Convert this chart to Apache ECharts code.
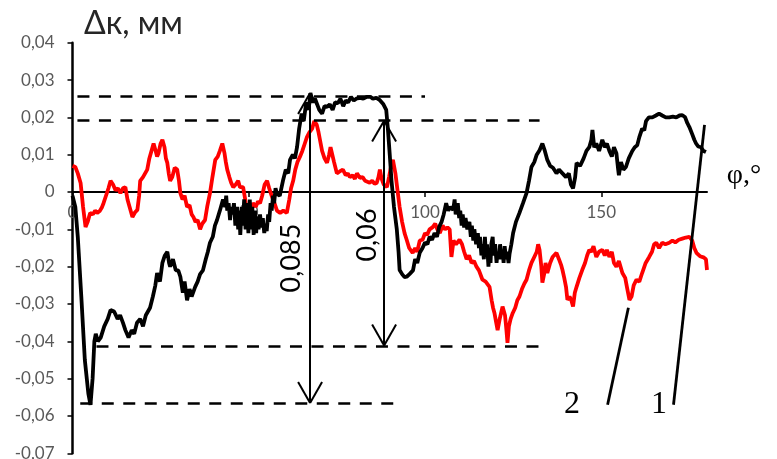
<!DOCTYPE html>
<html><head><meta charset="utf-8">
<script src="https://cdn.jsdelivr.net/npm/echarts@6/dist/echarts.min.js"></script>
<style>html,body{margin:0;padding:0;background:#fff}#c{width:777px;height:459px}</style>
</head><body><div id="c"></div>
<script>
// X ticks (phi, degrees) and Y ticks (delta k, mm)
const xTickValues = [0, 50, 100, 150];
const yMin = -0.07, yMax = 0.04, yStep = 0.01;
const xMin = 0, xMax = 180;

// Curve 1 (black): [phi, dk]
const curve1 = [[0,-0.001],[0.8,-0.004],[1.5,-0.012],[2.5,-0.028],[3.5,-0.045],[4.5,-0.054],[5.1,-0.057],[5.7,-0.050],[6.2,-0.040],[6.6,-0.038],[7.2,-0.040],[8,-0.039],[9,-0.036],[10,-0.034],[10.8,-0.0316],[11.8,-0.032],[12.8,-0.034],[13.5,-0.033],[14.3,-0.035],[15,-0.037],[15.9,-0.039],[16.8,-0.037],[17.5,-0.038],[18.3,-0.035],[19.2,-0.034],[20,-0.036],[20.8,-0.033],[22,-0.031],[22.8,-0.028],[23.5,-0.025],[24,-0.0217],[24.8,-0.024],[25.5,-0.019],[26.2,-0.017],[26.9,-0.016],[27.4,-0.019],[27.7,-0.020],[28.5,-0.018],[29.3,-0.021],[30,-0.021],[30.6,-0.0227],[31.3,-0.027],[31.8,-0.024],[32.5,-0.029],[33.2,-0.026],[33.8,-0.028],[34.8,-0.0254],[35.5,-0.024],[36.2,-0.022],[37,-0.021],[37.8,-0.018],[38.4,-0.016],[39,-0.0136],[39.8,-0.012],[40.4,-0.009],[41,-0.0075],[41.8,-0.005],[42.7,-0.002],[43.3,-0.004],[43.6,-0.001],[43.9,-0.005],[44.3,-0.003],[44.7,-0.0075],[45,-0.004],[45.4,-0.006],[45.8,-0.003],[46.2,-0.009],[46.5,-0.005],[46.7,-0.004],[47,-0.010],[47.3,-0.005],[47.6,-0.0115],[48,-0.004],[48.3,-0.009],[48.7,-0.002],[49.1,-0.010],[49.5,-0.003],[49.9,-0.011],[50.3,-0.002],[50.6,-0.010],[51,-0.004],[51.4,-0.0115],[51.8,-0.005],[52.1,-0.011],[52.4,-0.0065],[52.8,-0.010],[53.2,-0.006],[53.6,-0.0095],[54,-0.007],[54.4,-0.011],[54.8,-0.0085],[55.1,-0.0105],[55.5,-0.006],[55.8,-0.008],[56.2,-0.003],[56.5,-0.005],[56.9,-0.001],[57.2,-0.003],[57.6,0.001],[58,-0.0005],[58.8,-0.001],[59.7,0.003],[60.5,0.006],[61.2,0.005],[61.7,0.0086],[62.5,0.010],[63.1,0.009],[63.7,0.012],[64.3,0.017],[65,0.021],[65.6,0.019],[66.3,0.024],[67,0.022],[67.5,0.0265],[68.2,0.024],[68.8,0.025],[69.3,0.0246],[70,0.022],[70.8,0.021],[71.5,0.023],[72.2,0.0228],[73,0.0235],[73.8,0.022],[74.5,0.024],[75.3,0.0238],[76,0.025],[76.8,0.023],[77.5,0.0245],[78.2,0.024],[79,0.0255],[79.8,0.0245],[80.5,0.025],[81.5,0.0252],[82.5,0.025],[83.5,0.0255],[84.5,0.0255],[85.2,0.025],[86.2,0.0252],[87.2,0.0246],[88.2,0.0235],[89,0.022],[89.5,0.0166],[90,0.010],[90.5,0.003],[91.2,-0.004],[92,-0.010],[92.5,-0.016],[92.8,-0.0209],[93.5,-0.022],[94.2,-0.0228],[94.8,-0.0227],[95.6,-0.022],[96.6,-0.021],[97.2,-0.018],[97.8,-0.019],[98.5,-0.0163],[99.3,-0.015],[100,-0.0135],[100.7,-0.014],[101.3,-0.012],[102,-0.0128],[102.7,-0.011],[103.4,-0.012],[104,-0.0094],[104.7,-0.008],[105.3,-0.006],[106,-0.003],[106.6,-0.005],[107.2,-0.004],[108,-0.0048],[108.4,-0.002],[108.7,-0.006],[109.3,-0.003],[109.7,-0.007],[110,-0.005],[110.4,-0.009],[110.7,-0.006],[111.1,-0.0095],[111.5,-0.007],[112,-0.010],[112.6,-0.008],[113,-0.012],[113.3,-0.009],[113.7,-0.013],[114,-0.010],[114.5,-0.014],[115,-0.011],[115.3,-0.015],[115.6,-0.012],[116,-0.017],[116.3,-0.014],[116.7,-0.018],[117,-0.012],[117.3,-0.017],[117.6,-0.014],[118,-0.020],[118.3,-0.016],[118.6,-0.019],[118.8,-0.014],[119.2,-0.012],[119.5,-0.017],[119.9,-0.014],[120.3,-0.019],[120.6,-0.016],[121,-0.018],[121.3,-0.014],[121.7,-0.018],[122,-0.0155],[122.3,-0.019],[122.6,-0.0145],[123,-0.018],[123.3,-0.016],[123.7,-0.019],[124,-0.0165],[124.5,-0.014],[125,-0.011],[125.8,-0.008],[126.8,-0.0056],[127.8,-0.003],[128.8,-0.0003],[129.5,0.003],[130.2,0.0067],[131,0.008],[131.7,0.010],[132.5,0.0112],[133.3,0.013],[134,0.011],[134.7,0.0086],[135.5,0.007],[136.3,0.0065],[137.3,0.005],[138,0.006],[139,0.005],[140,0.004],[140.8,0.005],[141.4,0.002],[142,0.001],[142.6,0.004],[143,0.0078],[144,0.007],[145,0.009],[145.8,0.011],[146.6,0.012],[147.2,0.014],[147.5,0.0166],[148,0.012],[148.6,0.013],[149.4,0.011],[150.3,0.014],[151,0.012],[151.6,0.013],[152.3,0.011],[153,0.0095],[153.6,0.012],[154.3,0.0104],[154.8,0.006],[155,0.0045],[155.6,0.008],[156.3,0.006],[157,0.0067],[157.8,0.009],[158.8,0.011],[159.5,0.012],[160.2,0.0125],[160.8,0.0147],[161.6,0.017],[162.2,0.0165],[162.7,0.019],[163.5,0.020],[164.5,0.020],[165.5,0.0205],[166.4,0.021],[167.3,0.0205],[168.3,0.020],[169.3,0.020],[170.3,0.0202],[171.3,0.020],[172.2,0.0205],[173,0.0206],[173.8,0.020],[174.4,0.0185],[175,0.0174],[175.8,0.0155],[176.4,0.014],[176.9,0.013],[177.5,0.0122],[178.3,0.012],[179,0.011],[179.7,0.0107]];

// Curve 2 (red): [phi, dk]
const curve2 = [[0,0.007],[0.8,0.0067],[1.5,0.005],[2.3,0.0024],[3,-0.004],[3.7,-0.0094],[4.3,-0.008],[5,-0.0056],[5.8,-0.006],[6.4,-0.005],[7,-0.0056],[7.8,-0.005],[8.4,-0.004],[8.8,-0.003],[9.5,-0.001],[10.2,0.001],[10.8,0.003],[11.5,0.002],[12.2,0.0005],[12.9,0.001],[13.6,-0.0003],[14.3,0.001],[15,0.0013],[15.6,-0.002],[16.2,-0.004],[17,-0.0067],[17.7,-0.0055],[18.4,-0.0048],[18.9,-0.001],[19.2,0.003],[20,0.004],[20.6,0.005],[21.2,0.006],[21.8,0.009],[22.4,0.011],[23,0.013],[23.6,0.011],[24,0.0095],[24.4,0.0104],[25,0.013],[25.5,0.014],[26.1,0.012],[26.5,0.009],[26.9,0.0078],[27.3,0.005],[27.7,0.003],[28.3,0.004],[29,0.0065],[29.7,0.006],[30.2,0.003],[30.6,-0.0003],[31.2,-0.002],[31.8,-0.001],[32.5,-0.004],[33.2,-0.0035],[33.8,-0.006],[34.3,-0.0067],[34.9,-0.008],[35.5,-0.0075],[36.2,-0.010],[36.8,-0.0085],[37.6,-0.0075],[38.2,-0.004],[39,-0.0003],[39.7,0.004],[40.5,0.0086],[41.2,0.0095],[41.8,0.011],[42.5,0.013],[43.1,0.0105],[43.5,0.008],[43.9,0.006],[44.5,0.004],[45,0.0025],[45.6,0.0013],[46.3,0.002],[47,0.003],[47.5,0.0013],[48.4,0.0013],[49,-0.002],[49.5,-0.0056],[50,-0.004],[50.4,-0.0048],[51.2,-0.003],[52,-0.004],[52.6,-0.0025],[53.2,-0.003],[53.8,-0.001],[54.5,0.002],[55.2,0.003],[55.8,0.001],[56.6,-0.0013],[57.3,-0.003],[58,-0.005],[58.9,-0.0056],[59.8,-0.005],[60.8,-0.0056],[61.5,-0.002],[62,0.001],[62.6,0.003],[63.2,0.006],[63.8,0.008],[64.5,0.0094],[65.2,0.011],[65.9,0.013],[66.5,0.0147],[67.2,0.016],[68,0.017],[68.6,0.019],[69.3,0.018],[69.8,0.016],[70.2,0.014],[70.8,0.011],[71.5,0.009],[72.2,0.0078],[72.8,0.010],[73.2,0.012],[73.6,0.012],[74.2,0.008],[75,0.005],[75.8,0.0055],[76.7,0.006],[77.5,0.0045],[78.1,0.005],[78.7,0.004],[79.5,0.0045],[80.1,0.0035],[80.7,0.005],[81.5,0.0038],[82.3,0.004],[83,0.003],[83.5,0.003],[84.3,0.0025],[85,0.003],[85.7,0.0022],[86.3,0.0024],[86.8,0.004],[87.2,0.006],[87.7,0.0035],[88.3,0.002],[89.2,0.0013],[89.8,0.004],[90.4,0.007],[90.9,0.0086],[91.6,0.005],[92.2,0.0005],[92.8,-0.004],[93.5,-0.008],[94.2,-0.011],[94.8,-0.0128],[95.5,-0.015],[96.5,-0.0163],[97.2,-0.015],[97.8,-0.016],[98.5,-0.013],[99.3,-0.0128],[100,-0.011],[100.6,-0.0115],[101.3,-0.010],[102.2,-0.0094],[102.9,-0.0085],[103.5,-0.010],[104.2,-0.011],[105,-0.009],[105.7,-0.010],[106.4,-0.0095],[107,-0.010],[107.5,-0.0174],[108.1,-0.013],[108.8,-0.014],[109.8,-0.0128],[110.5,-0.014],[111.1,-0.016],[111.8,-0.018],[112.5,-0.017],[113.2,-0.019],[113.9,-0.0185],[114.6,-0.020],[115.3,-0.021],[116.3,-0.0235],[117.2,-0.024],[118.3,-0.0254],[118.9,-0.029],[119.3,-0.031],[119.7,-0.0324],[120.2,-0.035],[120.6,-0.037],[121.2,-0.034],[122,-0.0307],[122.7,-0.033],[123.1,-0.037],[123.4,-0.0404],[123.8,-0.036],[124.3,-0.034],[124.9,-0.0324],[125.6,-0.031],[126.2,-0.029],[126.8,-0.028],[127.5,-0.026],[128.2,-0.0245],[128.8,-0.0235],[129.5,-0.021],[130.2,-0.019],[131,-0.0174],[131.7,-0.016],[132.1,-0.014],[132.5,-0.0155],[133,-0.020],[133.3,-0.0243],[133.8,-0.022],[134.2,-0.019],[134.7,-0.0217],[135.5,-0.019],[136.2,-0.0174],[137.3,-0.0163],[138,-0.018],[138.6,-0.0195],[139,-0.0209],[139.5,-0.023],[140,-0.0254],[140.4,-0.0289],[141,-0.028],[141.5,-0.029],[142,-0.0307],[142.5,-0.027],[143,-0.0254],[143.8,-0.023],[144.6,-0.0209],[145.4,-0.019],[146,-0.017],[146.6,-0.0155],[147.2,-0.016],[147.8,-0.0145],[148.6,-0.0174],[149.4,-0.016],[150.3,-0.0155],[151,-0.017],[151.6,-0.0155],[152.3,-0.0174],[153,-0.016],[153.6,-0.019],[154.3,-0.020],[155,-0.0185],[156,-0.0217],[156.8,-0.023],[157.4,-0.026],[158,-0.0289],[158.6,-0.028],[159.2,-0.025],[160,-0.0235],[160.8,-0.024],[161.6,-0.0217],[162.6,-0.019],[163.6,-0.0174],[164.4,-0.016],[165,-0.014],[165.6,-0.0136],[166.4,-0.015],[167.3,-0.0136],[168.2,-0.014],[169.3,-0.0136],[170.2,-0.013],[171,-0.0135],[172,-0.0128],[173,-0.0125],[174,-0.0122],[175,-0.012],[175.8,-0.013],[176.4,-0.015],[177,-0.0163],[178,-0.0172],[179,-0.0175],[179.7,-0.018],[180,-0.0209]];

// Horizontal dashed reference levels: [level, phiStart, phiEnd]
const dashLevels = [[0.0257, 1.4, 100], [0.0193, 1.4, 132.5], [-0.0414, 6.8, 132.5], [-0.0565, 2.2, 91.4]];
// Double arrows: [phi, top, bottom]
const arrows = [[67.4, 0.0265, -0.0565], [88.4, 0.0191, -0.0411]];
const arrowTexts = ['0,085', '0,06'];
// Leader lines for curve labels: [phi1, dk1, phi2, dk2]
const leaders = [[151.8, -0.0570, 157.7, -0.0310], [170.5, -0.0570, 179.3, 0.0180]];

const headDx = 3.4, headDy = 0.0056;
const markData = [];
dashLevels.forEach(d => markData.push([{coord:[d[1], d[0]], lineStyle:{type:[12,9.5], width:2.5}}, {coord:[d[2], d[0]]}]));
arrows.forEach(a => {
  markData.push([{coord:[a[0], a[1]]}, {coord:[a[0], a[2]]}]);
  markData.push([{coord:[a[0]-headDx, a[1]-headDy]}, {coord:[a[0], a[1]]}]);
  markData.push([{coord:[a[0]+headDx, a[1]-headDy]}, {coord:[a[0], a[1]]}]);
  markData.push([{coord:[a[0]-headDx, a[2]+headDy]}, {coord:[a[0], a[2]]}]);
  markData.push([{coord:[a[0]+headDx, a[2]+headDy]}, {coord:[a[0], a[2]]}]);
});
leaders.forEach(l => markData.push([{coord:[l[0], l[1]], lineStyle:{width:2.8}}, {coord:[l[2], l[3]]}]));

const gridTop = 42.7, gridBottom = 5.7, H = 459;
const plotH = H - gridTop - gridBottom;
// move the x axis from the grid bottom up to dk = 0
const zeroOffset = -plotH * (0 - yMin) / (yMax - yMin);

const chart = echarts.init(document.getElementById('c'), null, {renderer:'canvas'});
const labelFont = 'Lato';
chart.setOption({
  animation: false,
  backgroundColor: '#fff',
  grid: {left: 72.5, right: 70, top: gridTop, bottom: gridBottom, containLabel: false, outerBoundsMode: 'none'},
  xAxis: {
    type: 'value', min: xMin, max: xMax, interval: 50, position: 'bottom', offset: zeroOffset,
    axisLine: {onZero: false, lineStyle: {color: '#000', width: 2}},
    axisTick: {show: true, length: 5, lineStyle: {color: '#000', width: 1.5}, customValues: xTickValues},
    axisLabel: {color: '#595959', fontFamily: labelFont, fontSize: 17, margin: 12, customValues: xTickValues},
    splitLine: {show: false}
  },
  yAxis: {
    type: 'value', min: yMin, max: yMax, interval: yStep,
    axisLine: {show: true, onZero: false, lineStyle: {color: '#000', width: 2.5}},
    axisTick: {show: true, length: 5, lineStyle: {color: '#000', width: 1.5}},
    axisLabel: {color: '#595959', fontFamily: labelFont, fontSize: 17, margin: 18,
      formatter: v => Math.abs(v) < 1e-9 ? '0' : v.toFixed(2).replace('.', ',')},
    splitLine: {show: false}
  },
  series: [
    {type: 'line', name: '2', data: curve2, showSymbol: false, symbol: 'none',
     lineStyle: {color: '#ff0000', width: 3.8}, z: 2, silent: true},
    {type: 'line', name: '1', data: curve1, showSymbol: false, symbol: 'none',
     lineStyle: {color: '#000', width: 3.8}, z: 3, silent: true,
     markLine: {silent: true, symbol: 'none', animation: false, label: {show: false},
       lineStyle: {color: '#000', width: 2, type: 'solid'}, emphasis: {disabled: true},
       data: markData}}
  ],
  graphic: [
    {type: 'text', left: 84, top: 8, style: {text: 'Δк, мм', fill: '#262626', font: '32px Lato'}},
    {type: 'text', x: 291, y: 258, rotation: Math.PI/2, style: {text: arrowTexts[0], fill: '#000', font: '27px Lato', textAlign: 'center', textVerticalAlign: 'middle'}, z: 10},
    {type: 'text', x: 367, y: 235, rotation: Math.PI/2, style: {text: arrowTexts[1], fill: '#000', font: '27px Lato', textAlign: 'center', textVerticalAlign: 'middle'}, z: 10},
    {type: 'text', x: 744, y: 176, style: {text: 'φ,°', fill: '#000', font: '28px "Liberation Serif"', textAlign: 'center', textVerticalAlign: 'middle'}},
    {type: 'text', x: 572, y: 405, style: {text: '2', fill: '#000', font: '32px "Liberation Serif"', textAlign: 'center', textVerticalAlign: 'middle'}},
    {type: 'text', x: 659, y: 405, style: {text: '1', fill: '#000', font: '32px "Liberation Serif"', textAlign: 'center', textVerticalAlign: 'middle'}}
  ]
});
</script></body></html>
